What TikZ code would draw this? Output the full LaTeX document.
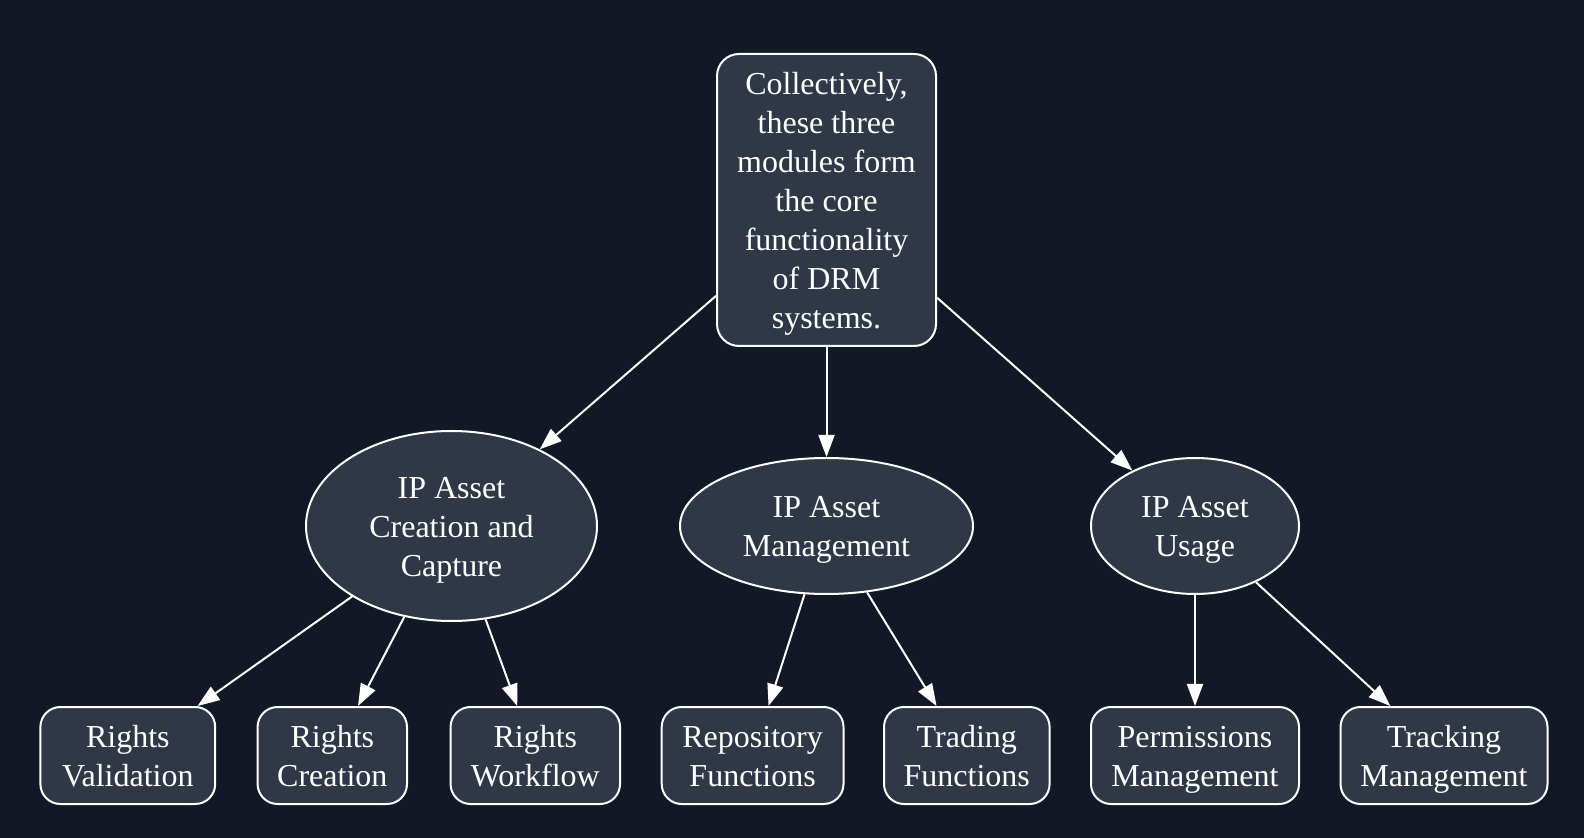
\documentclass[tikz,border=0pt]{standalone}
\usepackage{fontspec}
\setmainfont{Liberation Serif}
\usetikzlibrary{shapes.geometric,arrows.meta}
\definecolor{bgcol}{HTML}{131826}
\definecolor{nodecol}{HTML}{303747}
\newcommand{\ls}{\rule[-4.2pt]{0pt}{19.5pt}}
\begin{document}
\begin{tikzpicture}[x=0.5pt,y=-0.5pt,
  base/.style={draw=white,line width=1pt,fill=nodecol,text=white,align=center,inner sep=0pt,
    font=\fontsize{16}{19.5}\selectfont},
  rbox/.style={base,rectangle,rounded corners=10pt,minimum height=48.5pt},
  topbox/.style={base,rectangle,rounded corners=11pt,minimum width=109.5pt,minimum height=146pt},
  ell/.style={base,ellipse,minimum height=68pt},
  conn/.style={draw=white,line width=1pt,-{Triangle[length=11pt,width=8pt,fill=white]}}]
\fill[bgcol] (0,0) rectangle (1584,838);
\useasboundingbox (0,0) rectangle (1584,838);
\node[topbox] (top) at (826.5,200) {\ls Collectively,\\\ls these three\\\ls modules form\\\ls the core\\\ls functionality\\\ls of DRM\\\ls systems.};
\node[ell,minimum width=145.5pt,minimum height=95pt] (cc) at (451.5,526) {\ls IP Asset\\\ls Creation and\\\ls Capture};
\node[ell,minimum width=146.5pt] (mg) at (826.5,526) {\ls IP Asset\\\ls Management};
\node[ell,minimum width=104pt] (us) at (1195,526) {\ls IP Asset\\\ls Usage};
\node[rbox,minimum width=87.4pt] (rv) at (127.8,755.5) {\ls Rights\\\ls Validation};
\node[rbox,minimum width=74.7pt] (rc) at (332.3,755.5) {\ls Rights\\\ls Creation};
\node[rbox,minimum width=84.75pt] (rw) at (535.3,755.5) {\ls Rights\\\ls Workflow};
\node[rbox,minimum width=90.9pt] (rf) at (752.6,755.5) {\ls Repository\\\ls Functions};
\node[rbox,minimum width=82.8pt] (tf) at (966.8,755.5) {\ls Trading\\\ls Functions};
\node[rbox,minimum width=104pt] (pm) at (1195,755.5) {\ls Permissions\\\ls Management};
\node[rbox,minimum width=103.5pt] (tm) at (1444,755.5) {\ls Tracking\\\ls Management};
\draw[conn] (top) -- (cc);
\draw[conn] (top) -- (mg);
\draw[conn] (top) -- (us);
\draw[conn] (cc) -- (rv);
\draw[conn] (cc) -- (rc);
\draw[conn] (cc) -- (rw);
\draw[conn] (mg) -- (rf);
\draw[conn] (mg) -- (tf);
\draw[conn] (us) -- (pm);
\draw[conn] (us) -- (tm);
\end{tikzpicture}
\end{document}
